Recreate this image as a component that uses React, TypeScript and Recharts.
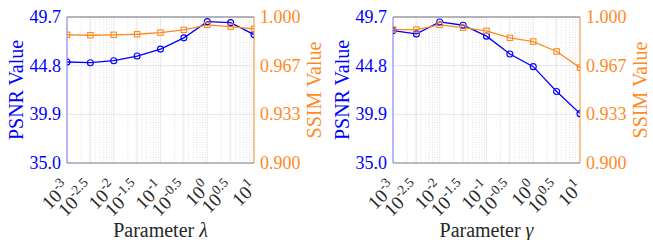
import React from "react";
import { LineChart, Line, XAxis, YAxis, CartesianGrid, ReferenceLine, Label } from "recharts";

const exponents = [-3, -2.5, -2, -1.5, -1, -0.5, 0, 0.5, 1];
const lambdaPSNR = [45.17, 45.1, 45.3, 45.77, 46.47, 47.6, 49.23, 49.13, 47.93];
const lambdaSSIM = [0.9878, 0.9875, 0.9878, 0.9882, 0.9893, 0.9912, 0.9946, 0.9934, 0.9918];
const gammaPSNR = [48.33, 48.0, 49.2, 48.87, 47.77, 45.97, 44.7, 42.2, 39.97];
const gammaSSIM = [0.9914, 0.9914, 0.9946, 0.9927, 0.9905, 0.9857, 0.9832, 0.9764, 0.9653];
const psnrTicks = [35.0, 39.9, 44.8, 49.7];
const ssimTicks = [0.9, 0.9 + 0.1 / 3, 0.9 + 0.2 / 3, 1.0];
const decades = [-3, -2, -1, 0];
const minorFactors = [2, 3, 4, 5, 6, 7, 8, 9];

const BLUE = "#0000FF";
const ORANGE = "#FF8A1F";
const FONT = "Liberation Serif";

const minorLines: number[] = [];
decades.forEach((d) => minorFactors.forEach((k) => minorLines.push(d + Math.log10(k))));

const XTick = (props: any) => {
  const { x, y, payload } = props;
  const e: number = payload.value;
  const exp = Number.isInteger(e) ? String(e) : e.toFixed(1);
  return (
    <g transform={`translate(${x + 4},${y + 26}) rotate(-45)`}>
      <text textAnchor="end" fontFamily={FONT} fontSize={19} fill="#262626">
        <tspan>10</tspan>
        <tspan dy={-8} fontSize={13.5}>{exp}</tspan>
      </text>
    </g>
  );
};

const LeftTick = (props: any) => {
  const { x, y, payload } = props;
  return (
    <text x={x} y={y} dy={6} textAnchor="end" fontFamily={FONT} fontSize={18} fill={BLUE}>
      {Number(payload.value).toFixed(1)}
    </text>
  );
};

const RightTick = (props: any) => {
  const { x, y, payload } = props;
  return (
    <text x={x} y={y} dy={6} textAnchor="start" fontFamily={FONT} fontSize={18} fill={ORANGE}>
      {Number(payload.value).toFixed(3)}
    </text>
  );
};

type PanelProps = { psnr: number[]; ssim: number[]; symbol: string; left: number };

const Panel = ({ psnr, ssim, symbol, left }: PanelProps) => {
  const data = exponents.map((e, i) => ({ e, psnr: psnr[i], ssim: ssim[i] }));
  return (
    <div style={{ position: "absolute", left, top: 0 }}>
      <LineChart width={327} height={240} data={data} margin={{ top: 17, right: 0, bottom: 17, left: 0 }}>
        <CartesianGrid yAxisId="left" vertical={false} stroke="#dedef2" strokeWidth={0.8} />
        {minorLines.map((m) => (
          <ReferenceLine key={"m" + m} yAxisId="left" x={m} stroke="#d0d0d0" strokeWidth={0.6} strokeDasharray="1 1.5" />
        ))}
        {exponents.map((m) => (
          <ReferenceLine key={"M" + m} yAxisId="left" x={m} stroke="#e4e4e4" strokeWidth={0.8} />
        ))}
        <ReferenceLine yAxisId="left" y={49.7} stroke="#555" strokeWidth={0.8} />
        <XAxis
          type="number"
          dataKey="e"
          domain={[-3, 1]}
          ticks={exponents}
          interval={0}
          allowDataOverflow
          height={60}
          tickSize={0}
          tickMargin={0}
          tick={<XTick />}
          axisLine={{ stroke: "#666", strokeWidth: 0.8 }}
          tickLine={false}
        >
          <Label
            content={(p: any) => {
              const vb = p.viewBox;
              return (
                <text x={vb.x + vb.width / 2} y={vb.y + vb.height + 14} textAnchor="middle" fontFamily={FONT} fontSize={20} fill="#262626">
                  <tspan>Parameter </tspan>
                  <tspan fontStyle="italic">{symbol}</tspan>
                </text>
              );
            }}
          />
        </XAxis>
        <YAxis
          yAxisId="left"
          orientation="left"
          type="number"
          domain={[35, 49.7]}
          ticks={psnrTicks}
          interval={0}
          allowDataOverflow
          width={67}
          tickSize={0}
          tickMargin={6}
          tickLine={false}
          axisLine={{ stroke: "#7070ff", strokeWidth: 0.9 }}
          tick={<LeftTick />}
        >
          <Label
            content={(p: any) => {
              const vb = p.viewBox;
              const cx = vb.x + 23;
              const cy = vb.y + vb.height / 2;
              return (
                <text transform={`translate(${cx},${cy}) rotate(-90)`} textAnchor="middle" fontFamily={FONT} fontSize={20} fill={BLUE}>
                  PSNR Value
                </text>
              );
            }}
          />
        </YAxis>
        <YAxis
          yAxisId="right"
          orientation="right"
          type="number"
          domain={[0.9, 1.0]}
          ticks={ssimTicks}
          interval={0}
          allowDataOverflow
          width={73}
          tickSize={0}
          tickMargin={6}
          tickLine={false}
          axisLine={{ stroke: ORANGE, strokeWidth: 0.9 }}
          tick={<RightTick />}
        >
          <Label
            content={(p: any) => {
              const vb = p.viewBox;
              const cx = vb.x + 67;
              const cy = vb.y + vb.height / 2;
              return (
                <text transform={`translate(${cx},${cy}) rotate(-90)`} textAnchor="middle" fontFamily={FONT} fontSize={20} fill={ORANGE}>
                  SSIM Value
                </text>
              );
            }}
          />
        </YAxis>
        <Line
          yAxisId="left"
          dataKey="psnr"
          type="linear"
          stroke={BLUE}
          strokeWidth={1.3}
          isAnimationActive={false}
          dot={{ r: 3, stroke: BLUE, strokeWidth: 1.1, fill: "none" }}
        />
        <Line
          yAxisId="right"
          dataKey="ssim"
          type="linear"
          stroke={ORANGE}
          strokeWidth={1.3}
          isAnimationActive={false}
          dot={(p: any) => (
            <rect key={"s" + p.index} x={p.cx - 2.7} y={p.cy - 2.7} width={5.4} height={5.4} fill="none" stroke={ORANGE} strokeWidth={1.1} />
          )}
        />
      </LineChart>
    </div>
  );
};

export default function App() {
  return (
    <div style={{ position: "absolute", left: 0, top: 0, width: 653, height: 240, background: "#fff" }}>
      <Panel psnr={lambdaPSNR} ssim={lambdaSSIM} symbol="λ" left={0} />
      <Panel psnr={gammaPSNR} ssim={gammaSSIM} symbol="γ" left={326} />
    </div>
  );
}
